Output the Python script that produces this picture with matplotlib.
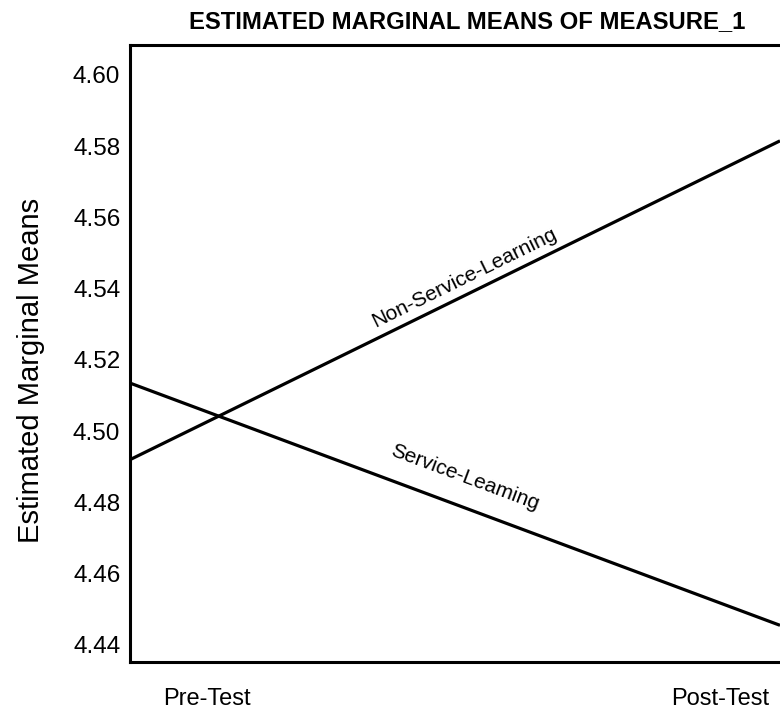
"""Estimated marginal means of MEASURE_1: pre/post test by group."""

import matplotlib

matplotlib.use("Agg")
import matplotlib.pyplot as plt
import numpy as np

plt.rcParams["font.family"] = ["Liberation Sans", "DejaVu Sans"]

# data
time_points = ["Pre-Test", "Post-Test"]
non_service_means = [4.492, 4.5815]
service_means = [4.5135, 4.4455]
y_ticks = [4.44, 4.46, 4.48, 4.50, 4.52, 4.54, 4.56, 4.58, 4.60]
group_labels = ["Non-Service-Learning", "Service-Leaming"]

# layout: where the category names sit along the x axis (fraction of axis)
LABEL_POS = [0.118, 0.908]


def main() -> None:
    fig = plt.figure(figsize=(7.8, 7.1), dpi=100)
    ax = fig.add_axes([0.1667, 0.0676, 0.8333, 0.869])

    x = np.arange(len(time_points)) / (len(time_points) - 1)
    for means in (non_service_means, service_means):
        ax.plot(x, means, color="black", lw=2.3, solid_capstyle="butt", clip_on=False)

    ax.set_xlim(0, 1)
    ax.set_ylim(4.4352, 4.6084)
    ax.set_yticks(y_ticks, [f"{v:.2f}" for v in y_ticks], fontsize=17.5)
    ax.set_xticks(LABEL_POS, time_points, fontsize=17)
    ax.tick_params(axis="y", length=0, pad=7)
    ax.tick_params(axis="x", length=0, pad=19)

    for side in ("left", "bottom", "top"):
        ax.spines[side].set_linewidth(2.2)
    ax.spines["right"].set_visible(False)

    ax.set_ylabel("Estimated Marginal Means", fontsize=21)
    ax.yaxis.set_label_coords(-0.131, 0.472)
    ax.set_title("ESTIMATED MARGINAL MEANS OF MEASURE_1", fontsize=17.2,
                 fontweight="bold", pad=12, x=0.518)

    # labels riding on their lines
    for means, label, t, off in zip((non_service_means, service_means), group_labels,
                                    (0.515, 0.515), (13, 21.5)):
        y_at = means[0] + t * (means[1] - means[0])
        data_angle = np.degrees(np.arctan2(means[1] - means[0], 1.0))
        angle = ax.transData.transform_angles(np.array([data_angle]),
                                              np.array([[t, y_at]]))[0]
        ax.annotate(label, xy=(t, y_at), xytext=(0, off), textcoords="offset points",
                    ha="center", va="center", fontsize=15, rotation=angle,
                    rotation_mode="anchor")

    fig.savefig("out.png", dpi=100)
    plt.close(fig)


if __name__ == "__main__":
    main()
